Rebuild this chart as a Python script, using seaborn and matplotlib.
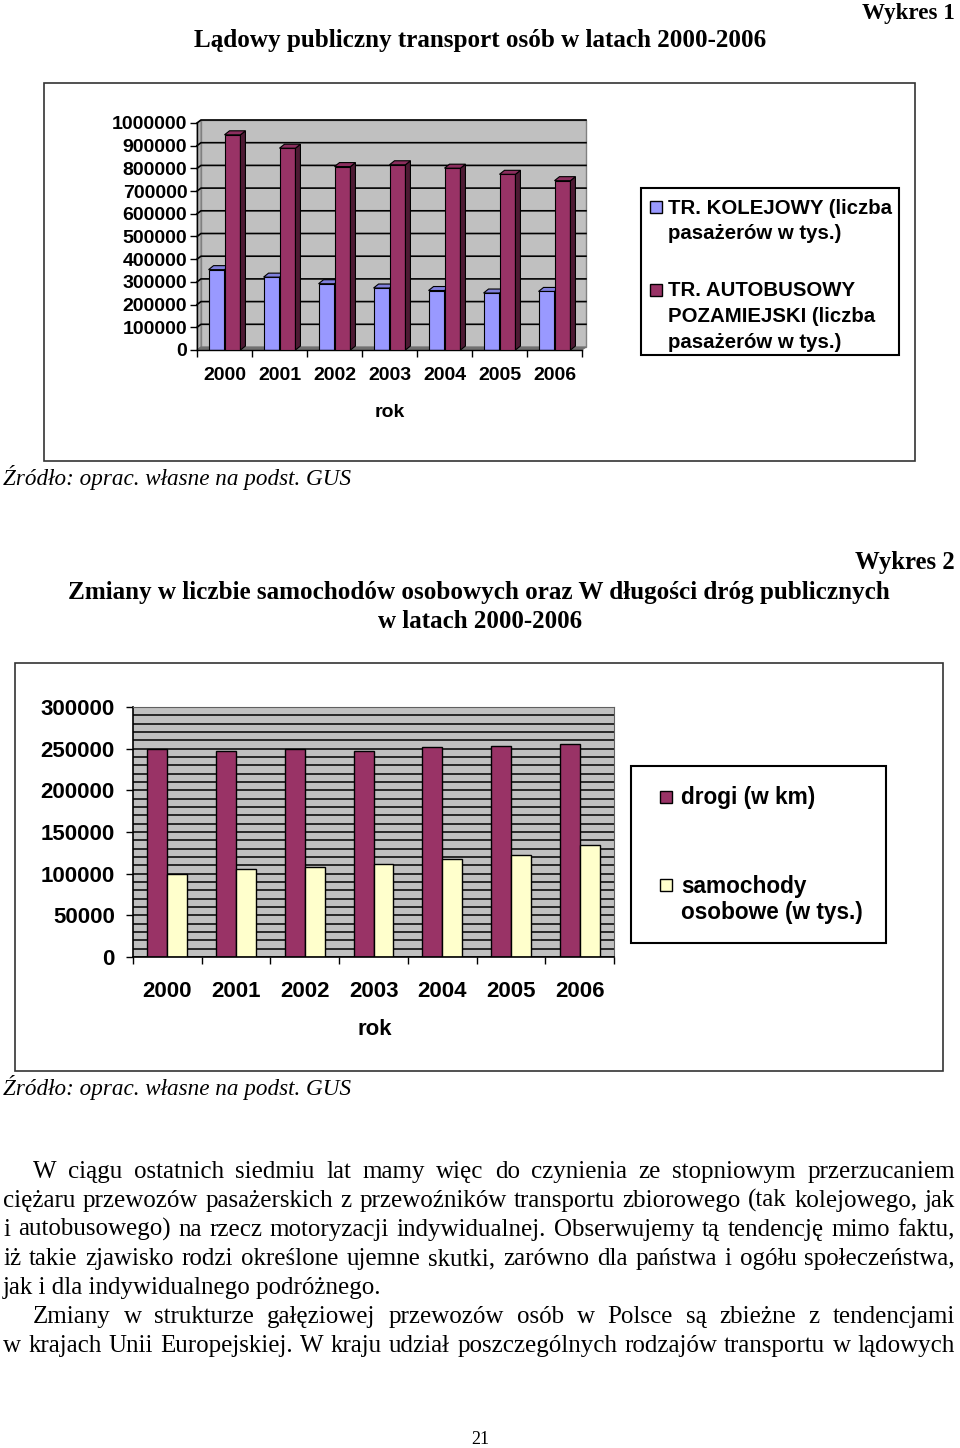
import numpy as np
import pandas as pd
import matplotlib
matplotlib.use('Agg')
import matplotlib.pyplot as plt
import matplotlib.ticker as ticker
from matplotlib.patches import Rectangle, Polygon
import seaborn as sns

# dane
lata = ['2000', '2001', '2002', '2003', '2004', '2005', '2006']
kolej = [354000, 321000, 292000, 273000, 262000, 251000, 258000]
autobus = [948000, 889000, 808000, 816000, 801000, 774000, 746000]
drogi = [249200, 247600, 249200, 247600, 251600, 253600, 256000]
samochody = [99200, 105200, 108400, 111600, 118000, 122800, 134400]

seria1 = ['TR. KOLEJOWY (liczba\npasażerów w tys.)',
          'TR. AUTOBUSOWY\nPOZAMIEJSKI (liczba\npasażerów w tys.)']
seria2 = ['drogi (w km)', 'samochody\nosobowe (w tys.)']

kolory1 = ['#9999FF', '#993366']
kolory2 = ['#993366', '#FFFFCC']

tekst = [
    ('W ciągu ostatnich siedmiu lat mamy więc do czynienia ze stopniowym przerzucaniem', 33, True),
    ('ciężaru przewozów pasażerskich z przewoźników transportu zbiorowego (tak kolejowego, jak', 3, True),
    ('i autobusowego) na rzecz motoryzacji indywidualnej. Obserwujemy tą tendencję mimo faktu,', 3, True),
    ('iż takie zjawisko rodzi określone ujemne skutki, zarówno dla państwa i ogółu społeczeństwa,', 3, True),
    ('jak i dla indywidualnego podróżnego.', 3, False),
    ('Zmiany w strukturze gałęziowej przewozów osób w Polsce są zbieżne z tendencjami', 33, True),
    ('w krajach Unii Europejskiej. W kraju udział poszczególnych rodzajów transportu w lądowych', 3, True),
]

plt.rcParams['font.family'] = ['Liberation Sans', 'DejaVu Sans']
plt.rcParams['font.weight'] = 'bold'
plt.rcParams['axes.labelweight'] = 'bold'

W, H = 960, 1448
fig = plt.figure(figsize=(9.6, 14.48), dpi=100)
renderer = fig.canvas.get_renderer()


def box(x0, y0, x1, y1):
    return [x0 / W, 1 - y1 / H, (x1 - x0) / W, (y1 - y0) / H]


def fx(x):
    return x / W


def fy(y):
    return 1 - y / H


def fit(t, width):
    w = t.get_window_extent(renderer).width
    t.set_fontsize(t.get_fontsize() * width / w)


def ramka(x0, y0, x1, y1, color='#333333', lw=1.2):
    fig.add_artist(Rectangle((fx(x0), fy(y1)), (x1 - x0) / W, (y1 - y0) / H,
                             transform=fig.transFigure, fill=False,
                             edgecolor=color, lw=lw))


serif = ['Liberation Serif', 'DejaVu Serif']

# ---------------- Wykres 1 ----------------
t = fig.text(fx(955), fy(14), 'Wykres 1', ha='right', va='center', family=serif, fontsize=16)
fit(t, 93)
t = fig.text(fx(480), fy(41), 'Lądowy publiczny transport osób w latach 2000-2006',
             ha='center', va='center', family=serif, fontsize=17)
fit(t, 574)
ramka(44, 83, 915, 461)

df1 = pd.DataFrame({'rok': lata * 2, 'wartosc': kolej + autobus,
                    'seria': [seria1[0]] * 7 + [seria1[1]] * 7})
ax1 = fig.add_axes(box(197, 123, 582, 350))
sns.barplot(data=df1, x='rok', y='wartosc', hue='seria', palette=kolory1,
            width=0.58, saturation=1, edgecolor='black', linewidth=0.8,
            legend=False, ax=ax1)
ax1.set_xlim(-0.5, 6.5)
ax1.set_ylim(0, 1000000)
ax1.patch.set_visible(False)

# efekt 3D: ściana, podłoga, głębokość słupków
ux = 7 / 385
uy = 1000000 / 227
wdx, wdy = 4 * ux, 3 * uy
ax1.add_patch(Rectangle((-0.5 + wdx, wdy), 7, 1000000, fc='#C0C0C0', ec='#808080',
                        lw=1, zorder=0, clip_on=False))
ax1.add_patch(Polygon([(-0.5, 0), (-0.5, 1000000), (-0.5 + wdx, 1000000 + wdy), (-0.5 + wdx, wdy)],
                      fc='#B4B4B4', ec='#808080', lw=0.8, zorder=0, clip_on=False))
ax1.add_patch(Polygon([(-0.5, 0), (6.5, 0), (6.5 + wdx, wdy), (-0.5 + wdx, wdy)],
                      fc='#707070', ec='#707070', lw=0.8, zorder=0.6, clip_on=False))
for v in range(100000, 1000001, 100000):
    ax1.plot([-0.5, -0.5 + wdx, 6.5 + wdx], [v, v + wdy, v + wdy], color='black', lw=1.2,
             zorder=0.5, clip_on=False)

bdx, bdy = 5 * ux, 4 * uy
for cont, c_top, c_side, z in zip(ax1.containers, ['#8080DD', '#8C2E5E'],
                                  ['#5C5C99', '#4D1A33'], [2, 3]):
    for b in cont:
        x0 = b.get_x()
        x1 = x0 + b.get_width()
        h = b.get_height()
        b.set_zorder(z)
        ax1.add_patch(Polygon([(x1, 0), (x1, h), (x1 + bdx, h + bdy), (x1 + bdx, bdy)],
                              fc=c_side, ec='black', lw=0.8, zorder=z, clip_on=False))
        ax1.add_patch(Polygon([(x0, h), (x1, h), (x1 + bdx, h + bdy), (x0 + bdx, h + bdy)],
                              fc=c_top, ec='black', lw=0.8, zorder=z, clip_on=False))

ax1.set_yticks(range(0, 1000001, 100000))
ax1.yaxis.set_major_formatter(ticker.FuncFormatter(lambda v, p: f'{int(v)}'))
ax1.tick_params(axis='y', length=5, width=1, pad=2, labelsize=14)
ax1.set_xticks(range(7))
ax1.set_xticklabels(lata)
ax1.set_xticks(np.arange(-0.5, 7, 1), minor=True)
ax1.tick_params(axis='x', which='major', length=0, pad=12, labelsize=14)
ax1.tick_params(axis='x', which='minor', length=5, width=1, direction='out')
for s in ['top', 'right']:
    ax1.spines[s].set_visible(False)
for s in ['left', 'bottom']:
    ax1.spines[s].set_color('black')
    ax1.spines[s].set_linewidth(1)
ax1.set_ylabel('')
ax1.set_xlabel('rok', fontsize=14)
ax1.xaxis.set_label_coords((390 - 197) / 385, (350 - 404) / 227)

# legenda 1
ramka(641, 188, 899, 355, color='black', lw=1.5)
leg1 = [(seria1[0], 207, 0), (seria1[1], 290, 1)]
for lab, yy, i in leg1:
    fig.add_artist(Rectangle((fx(650), fy(yy + 6)), 12 / W, 12 / H, transform=fig.transFigure,
                             fc=kolory1[i], ec='black', lw=1))
    for k, line in enumerate(lab.split('\n')):
        t = fig.text(fx(668), fy(yy + 1 + 25.5 * k), line, ha='left', va='center', fontsize=14)
        if k == 0 and i == 0:
            fit(t, 224)
            size_leg1 = t.get_fontsize()
        else:
            t.set_fontsize(size_leg1)

t = fig.text(fx(3), fy(477), 'Źródło: oprac. własne na podst. GUS', ha='left', va='center',
             family=serif, style='italic', weight='normal', fontsize=16)
fit(t, 349)

# ---------------- Wykres 2 ----------------
t = fig.text(fx(955), fy(563), 'Wykres 2', ha='right', va='center', family=serif, fontsize=16)
fit(t, 100)
t = fig.text(fx(479), fy(592), 'Zmiany w liczbie samochodów osobowych oraz W długości dróg publicznych',
             ha='center', va='center', family=serif, fontsize=17)
fit(t, 824)
t = fig.text(fx(480), fy(621), 'w latach 2000-2006', ha='center', va='center',
             family=serif, fontsize=17)
fit(t, 204)
ramka(15, 663, 943, 1071)

df2 = pd.DataFrame({'rok': lata * 2, 'wartosc': drogi + samochody,
                    'seria': [seria2[0]] * 7 + [seria2[1]] * 7})
ax2 = fig.add_axes(box(133, 707, 614, 957))
ax2.set_facecolor('#C0C0C0')
sns.barplot(data=df2, x='rok', y='wartosc', hue='seria', palette=kolory2,
            width=0.58, saturation=1, edgecolor='black', linewidth=1,
            legend=False, ax=ax2)
ax2.set_xlim(-0.5, 6.5)
ax2.set_ylim(0, 300000)
ax2.set_yticks(range(0, 300001, 50000))
ax2.set_yticks(range(0, 300001, 10000), minor=True)
ax2.yaxis.set_major_formatter(ticker.FuncFormatter(lambda v, p: f'{int(v)}'))
ax2.grid(axis='y', which='both', color='black', lw=1.1)
ax2.set_axisbelow(True)
ax2.tick_params(axis='y', which='major', length=5, width=1, pad=8, labelsize=16)
ax2.tick_params(axis='y', which='minor', length=0)
ax2.set_xticks(range(7))
ax2.set_xticklabels(lata)
ax2.set_xticks(np.arange(-0.5, 7, 1), minor=True)
ax2.tick_params(axis='x', which='major', length=0, pad=17, labelsize=16)
ax2.tick_params(axis='x', which='minor', length=5, width=1, direction='out')
for s in ['top', 'right']:
    ax2.spines[s].set_color('#606060')
for s in ['left', 'bottom']:
    ax2.spines[s].set_color('black')
    ax2.spines[s].set_linewidth(1.2)
ax2.set_ylabel('')
ax2.set_xlabel('rok', fontsize=16)
ax2.xaxis.set_label_coords((375 - 133) / 481, (957 - 1019) / 250)

# legenda 2
ramka(631, 766, 886, 943, color='black', lw=1.5)
leg2 = [(seria2[0], 797, 0), (seria2[1], 885, 1)]
for lab, yy, i in leg2:
    fig.add_artist(Rectangle((fx(660), fy(yy + 6)), 12 / W, 12 / H, transform=fig.transFigure,
                             fc=kolory2[i], ec='black', lw=1))
    for k, line in enumerate(lab.split('\n')):
        t = fig.text(fx(681), fy(yy + 1 + 27 * k), line, ha='left', va='center', fontsize=16)
        if k == 0 and i == 0:
            fit(t, 134)
            size_leg2 = t.get_fontsize()
        else:
            t.set_fontsize(size_leg2)

t = fig.text(fx(3), fy(1087), 'Źródło: oprac. własne na podst. GUS', ha='left', va='center',
             family=serif, style='italic', weight='normal', fontsize=16)
fit(t, 349)

# ---------------- tekst ----------------
size = 100
for line, x0, just in tekst:
    if not just:
        continue
    t = fig.text(0, 0, line, family=serif, weight='normal', fontsize=10)
    w = t.get_window_extent(renderer).width
    t.remove()
    size = min(size, 10 * (955 - x0) / w * 0.99)

for n, (line, x0, just) in enumerate(tekst):
    yb = 1178 + 29 * n
    if not just:
        fig.text(fx(x0), fy(yb), line, ha='left', va='baseline', family=serif,
                 weight='normal', fontsize=size)
        continue
    words = line.split()
    arts = [fig.text(fx(x0), fy(yb), wd, ha='left', va='baseline', family=serif,
                     weight='normal', fontsize=size) for wd in words]
    widths = [a.get_window_extent(renderer).width for a in arts]
    gap = (955 - x0 - sum(widths)) / (len(words) - 1)
    x = x0
    for a, wd in zip(arts, widths):
        a.set_x(fx(x))
        x += wd + gap

fig.text(fx(480), fy(1440), '21', ha='center', va='center', family=serif,
         weight='normal', fontsize=13)

fig.savefig('out.png', dpi=100)
